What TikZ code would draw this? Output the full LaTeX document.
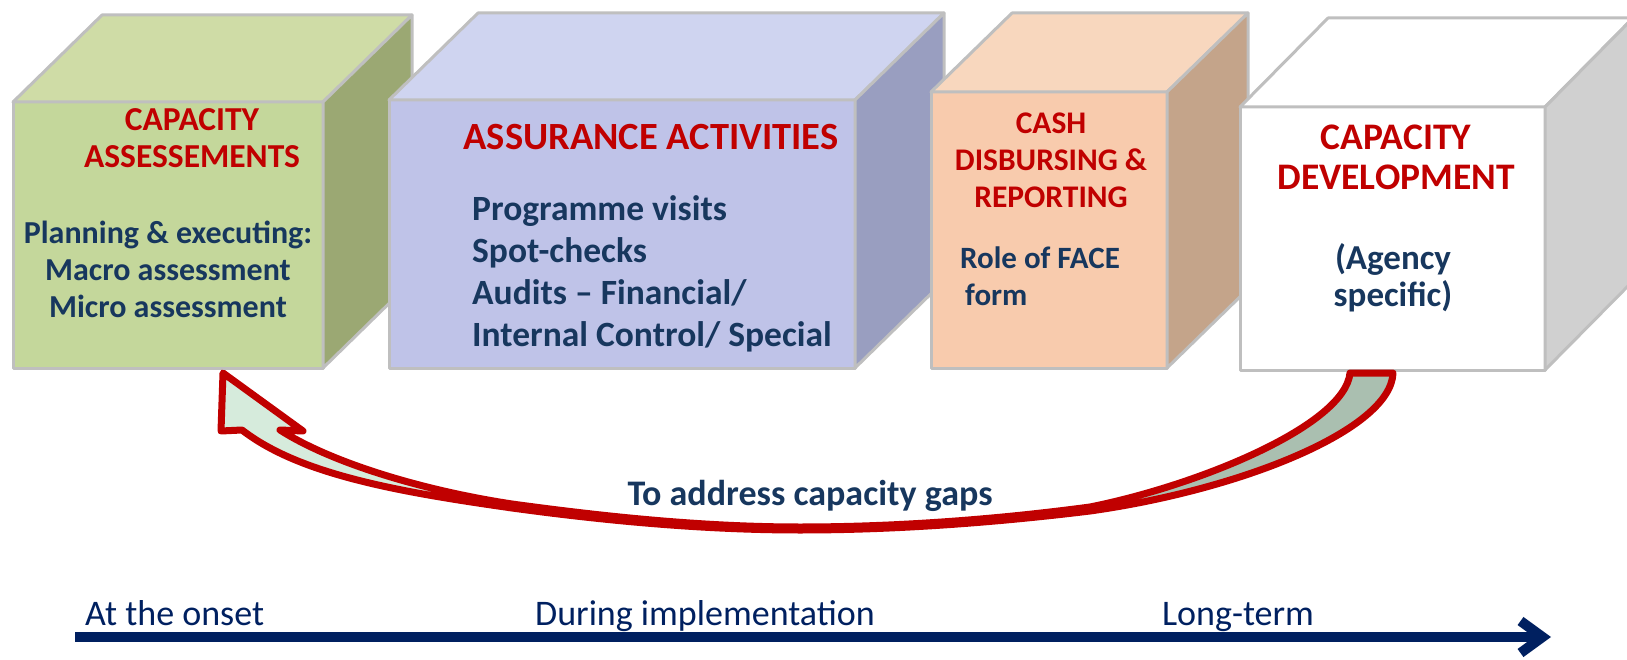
\documentclass[tikz,border=0pt]{standalone}
\usepackage{fontspec}
\setmainfont{Carlito}
\usepackage{tikz}
\usetikzlibrary{arrows.meta, positioning, calc}

\definecolor{cube_edge}{RGB}{191,191,191}
\definecolor{green_front}{RGB}{196,215,155}
\definecolor{green_top}{RGB}{207,220,166}
\definecolor{green_side}{RGB}{155,168,115}
\definecolor{blue_front}{RGB}{191,195,232}
\definecolor{blue_top}{RGB}{207,212,240}
\definecolor{blue_side}{RGB}{153,158,192}
\definecolor{peach_front}{RGB}{248,203,173}
\definecolor{peach_top}{RGB}{248,215,190}
\definecolor{peach_side}{RGB}{196,164,138}
\definecolor{grey_side}{RGB}{208,208,208}
\definecolor{title_red}{RGB}{192,0,0}
\definecolor{body_navy}{RGB}{23,55,94}
\definecolor{time_blue}{RGB}{0,32,96}
\definecolor{fb_light}{RGB}{214,235,220}
\definecolor{fb_dark}{RGB}{170,191,176}

\begin{document}
\begin{tikzpicture}[x=1pt, y=-1pt,
    face/.style={draw=cube_edge, line width=3pt, line join=round, inner sep=0pt, outer sep=0pt},
    title/.style={text=title_red, align=center, inner sep=0pt},
    body/.style={text=body_navy, inner sep=0pt},
    phase/.style={text=time_blue, inner sep=0pt, font=\fontsize{36}{40}\selectfont},
    fb arrow/.style={draw=title_red, line width=7pt, line join=round, fill=fb_light},
    timeline/.style={draw=time_blue, line width=10pt, -{Straight Barb[length=22pt, width=32pt]}}]

  \useasboundingbox (0,0) rectangle (1627,660);
  \clip (0,0) rectangle (1627,660);

  % capacity assessments
  \node[face, fill=green_front, minimum width=310pt, minimum height=266pt] (assess) at (168,235) {};
  \draw[face, fill=green_top] (assess.north west) -- ++(89,-87) -- ++(310,0) -- (assess.north east) -- cycle;
  \draw[face, fill=green_side] (assess.north east) -- ++(89,-87) -- ++(0,266) -- (assess.south east) -- cycle;

  % assurance activities
  \node[face, fill=blue_front, minimum width=466pt, minimum height=268pt] (assure) at (622,234) {};
  \draw[face, fill=blue_top] (assure.north west) -- ++(89,-87) -- ++(466,0) -- (assure.north east) -- cycle;
  \draw[face, fill=blue_side] (assure.north east) -- ++(89,-87) -- ++(0,268) -- (assure.south east) -- cycle;

  % cash disbursing
  \node[face, fill=peach_front, minimum width=236pt, minimum height=276pt] (cash) at (1049,230) {};
  \draw[face, fill=peach_top] (cash.north west) -- ++(81,-79) -- ++(236,0) -- (cash.north east) -- cycle;
  \draw[face, fill=peach_side] (cash.north east) -- ++(81,-79) -- ++(0,276) -- (cash.south east) -- cycle;

  % capacity development
  \node[face, fill=white, minimum width=305pt, minimum height=263pt] (devel) at (1392.5,238.5) {};
  \draw[face, fill=white] (devel.north west) -- ++(88,-89) -- ++(305,0) -- (devel.north east) -- cycle;
  \draw[face, fill=grey_side] (devel.north east) -- ++(88,-89) -- ++(0,263) -- (devel.south east) -- cycle;

  \node[title, font=\fontsize{33.5}{37}\selectfont\bfseries] (assess title) at (192,138.5) {CAPACITY\\ASSESSEMENTS};
  \node[body, align=center, font=\fontsize{32}{37}\selectfont\bfseries] (assess body) at (168,269) {Planning \& executing:\\Macro assessment\\Micro assessment};

  \node[title, font=\fontsize{38.5}{42}\selectfont\bfseries] (assure title) at (651,137) {ASSURANCE ACTIVITIES};
  \node[body, align=left, anchor=west, font=\fontsize{35.5}{42}\selectfont\bfseries] (assure body) at (472,274) {Programme visits\\Spot-checks\\Audits -- Financial/\\Internal Control/ Special};

  \node[title, font=\fontsize{31.5}{37}\selectfont\bfseries] (cash title) at (1051,160) {CASH\\DISBURSING \&\\REPORTING};
  \node[body, align=left, anchor=west, font=\fontsize{31}{37}\selectfont\bfseries] (cash body) at (960,276) {Role of FACE\\\hspace*{5pt}form};

  \node[title, font=\fontsize{37.5}{40}\selectfont\bfseries] (devel title) at (1396,157) {CAPACITY\\DEVELOPMENT};
  \node[body, align=center, font=\fontsize{35}{37}\selectfont\bfseries] (devel body) at (1393,278) {(Agency\\specific)};

  % feedback loop from development back to assessments
  \coordinate (fb out) at (1393,373);
  \coordinate (fb in) at (1350,373);
  \coordinate (fb tip) at (223,373);
  \draw[fb arrow, path picture={\fill[fb_dark] (800,300) rectangle (1700,600);}]
    (fb out) .. controls (1391,430) and (1240,490) .. (1090,511)
    .. controls (1000,522) and (900,530) .. (800,530)
    .. controls (700,530) and (600,520) .. (512,508)
    .. controls (400,492) and (300,475) .. (242,430)
    -- (221,431) -- (fb tip) -- (303,431) -- (280,430)
    .. controls (330,462) and (420,490) .. (512,504)
    .. controls (600,516) and (700,527) .. (800,527)
    .. controls (900,527) and (1000,519) .. (1090,507)
    .. controls (1200,485) and (1345,425) .. (fb in)
    -- cycle;
  \node[body, anchor=base, font=\fontsize{36}{40}\selectfont\bfseries] (gaps) at (810,505) {To address capacity gaps};

  % time line
  \coordinate (tl start) at (75,637);
  \coordinate (tl end) at (1551,637);
  \draw[timeline] (tl start) -- (tl end);
  \node[phase, anchor=base west] (onset) at (85,625) {At the onset};
  \node[phase, anchor=base] (during) at (705,625) {During implementation};
  \node[phase, anchor=base] (long) at (1238,625) {Long-term};
\end{tikzpicture}
\end{document}
